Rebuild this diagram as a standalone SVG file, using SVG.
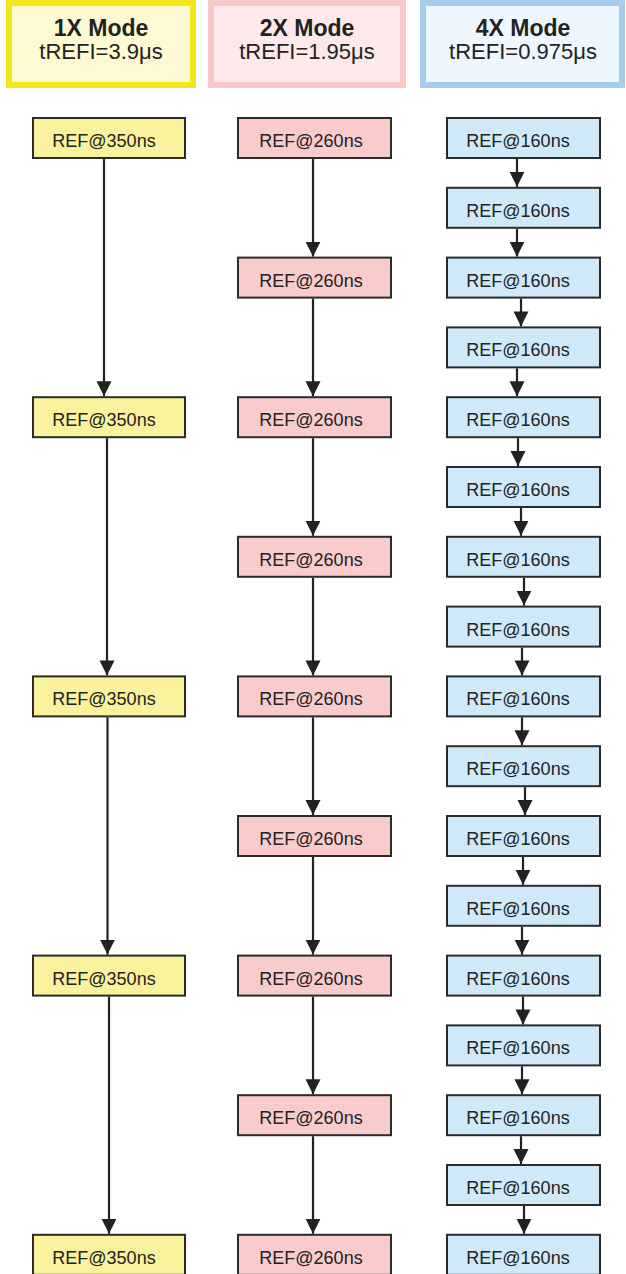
<svg xmlns="http://www.w3.org/2000/svg" width="626" height="1274" viewBox="0 0 626 1274">
<defs>
<style>
text{font-family:"Liberation Sans",Arial,sans-serif;fill:#222}
.t{font-size:23px;font-weight:bold;text-anchor:middle}
.s{font-size:22px;text-anchor:middle}
.n{font-size:18px;text-anchor:middle}
.nd{stroke:#2b2b2b;stroke-width:2}
.y{fill:#f8f29c}.p{fill:#f9cbcb}.b{fill:#cfe9f9}
.c line{stroke:#222;stroke-width:2.2;marker-end:url(#ah)}
</style>
<marker id="ah" markerUnits="userSpaceOnUse" markerWidth="16" markerHeight="16" refX="15" refY="7.5" orient="auto" viewBox="0 0 16 16">
<path d="M0,0 L15,7.5 L0,15 z" fill="#222"/>
</marker>
</defs>
<rect width="626" height="1274" fill="#fff"/>
<g id="h1"><rect x="9" y="3" width="184" height="82" fill="#fdf9d2" stroke="#f3e61a" stroke-width="6"/><text class="t" x="101" y="36">1X Mode</text><text class="s" x="101" y="59">tREFI=3.9μs</text></g>
<g id="h2"><rect x="211" y="3" width="192" height="82" fill="#fde9e9" stroke="#f9c9c9" stroke-width="6"/><text class="t" x="307" y="36">2X Mode</text><text class="s" x="307" y="59">tREFI=1.95μs</text></g>
<g id="h4"><rect x="423" y="3" width="199" height="82" fill="#eef7fd" stroke="#a7cbea" stroke-width="6"/><text class="t" x="523" y="36">4X Mode</text><text class="s" x="523" y="59">tREFI=0.975μs</text></g>
<g class="c" id="connectors">
<line x1="104" y1="159" x2="104" y2="396.2"/>
<line x1="107" y1="438.2" x2="107" y2="675.4"/>
<line x1="107.5" y1="717.4" x2="107.5" y2="954.6"/>
<line x1="109" y1="996.6" x2="109" y2="1233.8"/>
<line x1="313" y1="159" x2="313" y2="256.6"/>
<line x1="313" y1="298.6" x2="313" y2="396.2"/>
<line x1="313" y1="438.2" x2="313" y2="535.8"/>
<line x1="313" y1="577.8" x2="313" y2="675.4"/>
<line x1="313" y1="717.4" x2="313" y2="815"/>
<line x1="313" y1="857" x2="313" y2="954.6"/>
<line x1="313" y1="996.6" x2="313" y2="1094.2"/>
<line x1="313" y1="1136.2" x2="313" y2="1233.8"/>
<line x1="517" y1="159" x2="517" y2="186.8"/>
<line x1="517" y1="228.8" x2="517" y2="256.6"/>
<line x1="521" y1="298.6" x2="521" y2="326.4"/>
<line x1="517" y1="368.4" x2="517" y2="396.2"/>
<line x1="518" y1="438.2" x2="518" y2="466"/>
<line x1="521" y1="508" x2="521" y2="535.8"/>
<line x1="524" y1="577.8" x2="524" y2="605.6"/>
<line x1="522" y1="647.6" x2="522" y2="675.4"/>
<line x1="522" y1="717.4" x2="522" y2="745.2"/>
<line x1="525" y1="787.2" x2="525" y2="815"/>
<line x1="523" y1="857" x2="523" y2="884.8"/>
<line x1="522" y1="926.8" x2="522" y2="954.6"/>
<line x1="523" y1="996.6" x2="523" y2="1024.4"/>
<line x1="522" y1="1066.4" x2="522" y2="1094.2"/>
<line x1="521" y1="1136.2" x2="521" y2="1164"/>
<line x1="524" y1="1206" x2="524" y2="1233.8"/>
</g>
<g id="a0"><rect class="nd y" x="33" y="118" width="152" height="40"/><text class="n" x="104" y="147">REF@350ns</text></g>
<g id="a4"><rect class="nd y" x="33" y="397.2" width="152" height="40"/><text class="n" x="104" y="426.2">REF@350ns</text></g>
<g id="a8"><rect class="nd y" x="33" y="676.4" width="152" height="40"/><text class="n" x="104" y="705.4">REF@350ns</text></g>
<g id="a12"><rect class="nd y" x="33" y="955.6" width="152" height="40"/><text class="n" x="104" y="984.6">REF@350ns</text></g>
<g id="a16"><rect class="nd y" x="33" y="1234.8" width="152" height="40"/><text class="n" x="104" y="1263.8">REF@350ns</text></g>
<g id="b0"><rect class="nd p" x="238" y="118" width="153" height="40"/><text class="n" x="311" y="147">REF@260ns</text></g>
<g id="b2"><rect class="nd p" x="238" y="257.6" width="153" height="40"/><text class="n" x="311" y="286.6">REF@260ns</text></g>
<g id="b4"><rect class="nd p" x="238" y="397.2" width="153" height="40"/><text class="n" x="311" y="426.2">REF@260ns</text></g>
<g id="b6"><rect class="nd p" x="238" y="536.8" width="153" height="40"/><text class="n" x="311" y="565.8">REF@260ns</text></g>
<g id="b8"><rect class="nd p" x="238" y="676.4" width="153" height="40"/><text class="n" x="311" y="705.4">REF@260ns</text></g>
<g id="b10"><rect class="nd p" x="238" y="816" width="153" height="40"/><text class="n" x="311" y="845">REF@260ns</text></g>
<g id="b12"><rect class="nd p" x="238" y="955.6" width="153" height="40"/><text class="n" x="311" y="984.6">REF@260ns</text></g>
<g id="b14"><rect class="nd p" x="238" y="1095.2" width="153" height="40"/><text class="n" x="311" y="1124.2">REF@260ns</text></g>
<g id="b16"><rect class="nd p" x="238" y="1234.8" width="153" height="40"/><text class="n" x="311" y="1263.8">REF@260ns</text></g>
<g id="c0"><rect class="nd b" x="447" y="118" width="153" height="40"/><text class="n" x="518" y="147">REF@160ns</text></g>
<g id="c1"><rect class="nd b" x="447" y="187.8" width="153" height="40"/><text class="n" x="518" y="216.8">REF@160ns</text></g>
<g id="c2"><rect class="nd b" x="447" y="257.6" width="153" height="40"/><text class="n" x="518" y="286.6">REF@160ns</text></g>
<g id="c3"><rect class="nd b" x="447" y="327.4" width="153" height="40"/><text class="n" x="518" y="356.4">REF@160ns</text></g>
<g id="c4"><rect class="nd b" x="447" y="397.2" width="153" height="40"/><text class="n" x="518" y="426.2">REF@160ns</text></g>
<g id="c5"><rect class="nd b" x="447" y="467" width="153" height="40"/><text class="n" x="518" y="496">REF@160ns</text></g>
<g id="c6"><rect class="nd b" x="447" y="536.8" width="153" height="40"/><text class="n" x="518" y="565.8">REF@160ns</text></g>
<g id="c7"><rect class="nd b" x="447" y="606.6" width="153" height="40"/><text class="n" x="518" y="635.6">REF@160ns</text></g>
<g id="c8"><rect class="nd b" x="447" y="676.4" width="153" height="40"/><text class="n" x="518" y="705.4">REF@160ns</text></g>
<g id="c9"><rect class="nd b" x="447" y="746.2" width="153" height="40"/><text class="n" x="518" y="775.2">REF@160ns</text></g>
<g id="c10"><rect class="nd b" x="447" y="816" width="153" height="40"/><text class="n" x="518" y="845">REF@160ns</text></g>
<g id="c11"><rect class="nd b" x="447" y="885.8" width="153" height="40"/><text class="n" x="518" y="914.8">REF@160ns</text></g>
<g id="c12"><rect class="nd b" x="447" y="955.6" width="153" height="40"/><text class="n" x="518" y="984.6">REF@160ns</text></g>
<g id="c13"><rect class="nd b" x="447" y="1025.4" width="153" height="40"/><text class="n" x="518" y="1054.4">REF@160ns</text></g>
<g id="c14"><rect class="nd b" x="447" y="1095.2" width="153" height="40"/><text class="n" x="518" y="1124.2">REF@160ns</text></g>
<g id="c15"><rect class="nd b" x="447" y="1165" width="153" height="40"/><text class="n" x="518" y="1194">REF@160ns</text></g>
<g id="c16"><rect class="nd b" x="447" y="1234.8" width="153" height="40"/><text class="n" x="518" y="1263.8">REF@160ns</text></g>
</svg>
